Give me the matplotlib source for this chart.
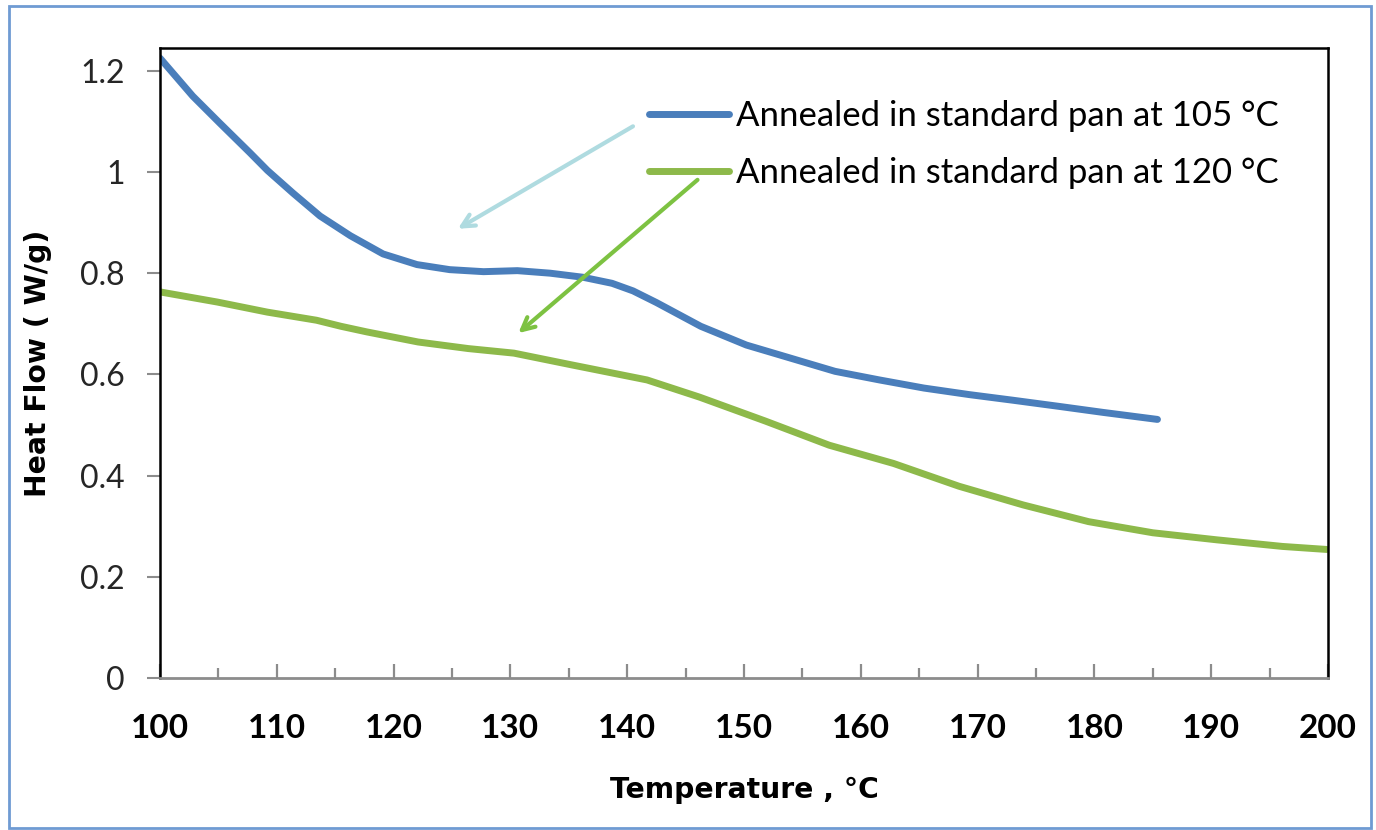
import matplotlib
matplotlib.use('Agg')
import matplotlib.pyplot as plt
from matplotlib.patches import Rectangle
from matplotlib.ticker import MultipleLocator

# heat flow
temp_105 = [100, 102.8, 105.1, 107.7, 109.2, 111.4, 113.7, 116.3, 119.1, 122.0, 124.8,
            127.7, 130.6, 133.4, 136.2, 138.7, 140.5, 142.5, 146.3, 150.2, 154.0, 157.8,
            161.6, 165.4, 169.3, 173.0, 176.9, 180.7, 185.4]
flow_105 = [1.225, 1.150, 1.097, 1.038, 1.003, 0.958, 0.913, 0.874, 0.838, 0.817, 0.807,
            0.803, 0.805, 0.800, 0.792, 0.780, 0.765, 0.742, 0.695, 0.658, 0.632, 0.606,
            0.589, 0.573, 0.560, 0.549, 0.537, 0.525, 0.511]

temp_120 = [100, 104.9, 109.2, 113.4, 115.5, 117.7, 122.1, 126.4, 130.3, 135.2, 141.7,
            146.2, 151.8, 157.3, 162.8, 168.4, 173.9, 179.5, 185.0, 190.5, 196.1, 199.9]
flow_120 = [0.763, 0.743, 0.723, 0.707, 0.695, 0.684, 0.664, 0.651, 0.642, 0.619, 0.589,
            0.555, 0.508, 0.460, 0.424, 0.379, 0.342, 0.309, 0.287, 0.273, 0.260, 0.254]

labels = ['Annealed in standard pan at 105 °C', 'Annealed in standard pan at 120 °C']
x_ticks = list(range(100, 201, 10))
y_ticks = [0, 0.2, 0.4, 0.6, 0.8, 1, 1.2]
y_ticklabels = ['0', '0.2', '0.4', '0.6', '0.8', '1', '1.2']

fig = plt.figure(figsize=(13.76, 8.30), dpi=100)
ax = fig.add_axes([160/1376, 1 - 678/830, 1168/1376, 630/830])

ax.plot(temp_105, flow_105, color='#4a7ebb', lw=5, solid_capstyle='round', label=labels[0])
ax.plot(temp_120, flow_120, color='#8db94a', lw=5, solid_capstyle='round', label=labels[1])

ax.set_xlim(100, 200)
ax.set_ylim(0, 1.245)

ax.set_xticks(x_ticks)
ax.xaxis.set_minor_locator(MultipleLocator(5))
ax.set_yticks(y_ticks)
ax.set_yticklabels(y_ticklabels)

for lab in ax.get_xticklabels():
    lab.set_family('Lato')
    lab.set_weight('bold')
    lab.set_fontsize(24)
for lab in ax.get_yticklabels():
    lab.set_family('Lato')
    lab.set_fontsize(23)
    lab.set_color('#262626')

ax.tick_params(axis='x', which='major', direction='in', length=10, width=1.6,
               color='#8c8c8c', pad=26)
ax.tick_params(axis='x', which='minor', direction='in', length=7, width=1.6,
               color='#8c8c8c')
ax.tick_params(axis='y', direction='out', length=9.5, width=1.5, color='#8c8c8c', pad=16)

for s in ['left', 'top', 'right']:
    ax.spines[s].set_color('black')
    ax.spines[s].set_linewidth(1.8)
ax.spines['bottom'].set_color('#8c8c8c')
ax.spines['bottom'].set_linewidth(2)

ax.set_xlabel('Temperature , °C', family='DejaVu Sans', weight='bold', fontsize=20.3,
              labelpad=24)
ax.set_ylabel('Heat Flow ( W/g)', family='DejaVu Sans', weight='bold', fontsize=20.3,
              labelpad=20)

leg = ax.legend(loc='upper left', bbox_to_anchor=(0.4187, 0.918), frameon=False,
                borderpad=0, borderaxespad=0, handlelength=2.3, handletextpad=0.2,
                labelspacing=0.72, prop={'family': 'Lato', 'size': 25})

# arrows pointing from the legend to each curve
ax.annotate('', xy=(125.3, 0.885), xytext=(140.7, 1.093),
            arrowprops=dict(arrowstyle='->,head_length=0.9,head_width=0.45',
                            color='#afdbe0', lw=3))
ax.annotate('', xy=(130.5, 0.678), xytext=(146.2, 0.988),
            arrowprops=dict(arrowstyle='->,head_length=0.9,head_width=0.45',
                            color='#7dc242', lw=3))

fig.patches.append(Rectangle((9/1376, 2/830), 1362/1376, 822/830, transform=fig.transFigure,
                             fill=False, edgecolor='#6f9bd3', lw=2))

fig.savefig('out.png', dpi=100)
